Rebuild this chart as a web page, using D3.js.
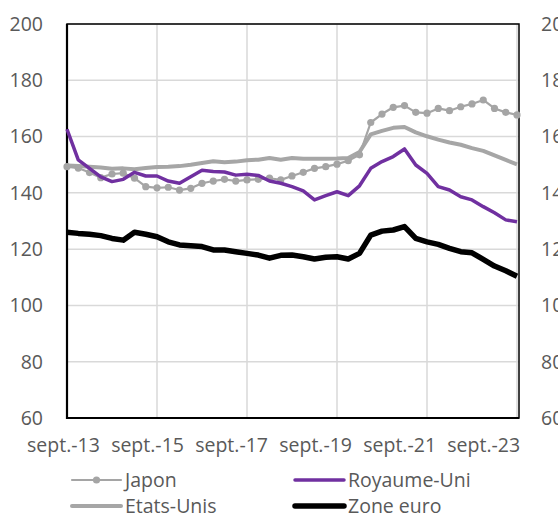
<!DOCTYPE html>
<html lang="fr">
<head>
    <meta charset="UTF-8">
    <title>Dette publique</title>
    <script src="https://d3js.org/d3.v7.min.js"></script>
    <style>
        body {
            margin: 0;
            padding: 0;
            background-color: #fff;
        }
        svg {
            display: block;
            font-family: "Open Sans", "Liberation Sans", Arial, sans-serif;
        }
    </style>
</head>
<body>
    <svg id="chart" width="558" height="514"></svg>

    <script>
        // quarterly values, sept.-13 to sept.-23 (41 quarters)
        const japon = [
            149.3, 148.8, 147.2, 145.4, 146.7, 147.0, 145.2, 142.2, 141.8, 142.0,
            141.0, 141.6, 143.4, 144.2, 144.8, 144.2, 144.6, 144.8, 145.2, 144.6,
            146.0, 147.3, 148.7, 149.3, 150.2, 151.4, 153.5, 165.0, 168.0, 170.4,
            171.0, 168.6, 168.3, 170.0, 169.2, 170.6, 171.6, 173.0, 170.0, 168.6,
            167.7
        ];
        const etatsUnis = [
            149.7, 149.5, 149.3, 149.0, 148.6, 148.7, 148.4, 148.8, 149.2, 149.3,
            149.5, 150.0, 150.6, 151.2, 150.9, 151.1, 151.6, 151.8, 152.4, 151.8,
            152.4, 152.1, 152.1, 152.1, 152.2, 152.4, 154.5, 160.8, 162.0, 163.1,
            163.4, 161.5, 160.1, 158.9, 157.9, 157.1, 155.9, 154.9, 153.3, 151.7,
            150.1
        ];
        const royaumeUni = [
            162.6, 151.7, 148.7, 145.7, 144.0, 144.8, 147.3, 146.0, 146.0, 144.2,
            143.4, 145.7, 148.0, 147.6, 147.4, 146.3, 146.6, 146.2, 144.2, 143.4,
            142.2, 140.7, 137.5, 139.0, 140.4, 139.0, 142.5, 148.7, 151.1, 152.9,
            155.6, 149.9, 146.9, 142.2, 141.0, 138.6, 137.5, 135.1, 132.9, 130.4,
            129.7
        ];
        const zoneEuro = [
            126.0, 125.6, 125.3, 124.8, 123.8, 123.2, 126.0, 125.3, 124.4, 122.6,
            121.5, 121.2, 120.9, 119.7, 119.7, 119.1, 118.5, 117.9, 116.8, 117.8,
            117.9, 117.3, 116.5, 117.1, 117.3, 116.5, 118.5, 125.0, 126.4, 126.8,
            128.0, 123.8, 122.6, 121.7, 120.3, 119.1, 118.7, 116.4, 114.0, 112.3,
            110.4
        ];
        const xLabels = ["sept.-13", "sept.-15", "sept.-17", "sept.-19", "sept.-21", "sept.-23"];
        const yTicks = [60, 80, 100, 120, 140, 160, 180, 200];

        const series = [
            { name: "Japon", values: japon, color: "#a5a5a5", width: 2.2, markers: true },
            { name: "Etats-Unis", values: etatsUnis, color: "#a6a6a6", width: 4, markers: false },
            { name: "Royaume-Uni", values: royaumeUni, color: "#7030a0", width: 3.5, markers: false },
            { name: "Zone euro", values: zoneEuro, color: "#000000", width: 5.5, markers: false }
        ];

        const svg = d3.select("#chart");
        const plotLeft = 67, plotRight = 519, plotTop = 24, plotBottom = 418;
        const textColor = "#595959";
        const fontSize = "19.5px";

        const x = d3.scaleLinear().domain([0, 40]).range([plotLeft, 517]);
        const y = d3.scaleLinear().domain([60, 200]).range([plotBottom, plotTop]);
        // Excel spreads the date labels a bit narrower than the gridlines
        const xLab = d3.scalePoint().domain(xLabels).range([63.5, 483.7]);

        // gridlines
        svg.append("g")
            .selectAll("line")
            .data(yTicks)
            .enter()
            .append("line")
            .attr("x1", plotLeft)
            .attr("x2", plotRight)
            .attr("y1", (d) => y(d))
            .attr("y2", (d) => y(d))
            .attr("stroke", "#d9d9d9")
            .attr("stroke-width", 1.5);

        svg.append("g")
            .selectAll("line")
            .data(d3.range(8, 41, 8))
            .enter()
            .append("line")
            .attr("x1", (d) => x(d))
            .attr("x2", (d) => x(d))
            .attr("y1", plotTop)
            .attr("y2", plotBottom)
            .attr("stroke", "#d9d9d9")
            .attr("stroke-width", 1.5);

        // plot border
        svg.append("rect")
            .attr("x", plotLeft)
            .attr("y", plotTop)
            .attr("width", plotRight - plotLeft)
            .attr("height", plotBottom - plotTop)
            .attr("fill", "none")
            .attr("stroke", "#000")
            .attr("stroke-width", 1.5);
        svg.append("line")
            .attr("x1", plotLeft).attr("x2", plotLeft)
            .attr("y1", plotTop).attr("y2", plotBottom + 1)
            .attr("stroke", "#000").attr("stroke-width", 2.2);
        svg.append("line")
            .attr("x1", plotLeft).attr("x2", plotRight)
            .attr("y1", plotBottom).attr("y2", plotBottom)
            .attr("stroke", "#000").attr("stroke-width", 2.2);

        // y labels, left and right (the right ones run off the edge, as in the source)
        svg.append("g")
            .selectAll("text")
            .data(yTicks)
            .enter()
            .append("text")
            .attr("x", 43)
            .attr("y", (d) => y(d))
            .attr("dy", "0.35em")
            .attr("text-anchor", "end")
            .attr("fill", textColor)
            .attr("font-size", fontSize)
            .text((d) => d);

        svg.append("g")
            .selectAll("text")
            .data(yTicks)
            .enter()
            .append("text")
            .attr("x", 541)
            .attr("y", (d) => y(d))
            .attr("dy", "0.35em")
            .attr("text-anchor", "start")
            .attr("fill", textColor)
            .attr("font-size", fontSize)
            .text((d) => d);

        // x labels
        svg.append("g")
            .selectAll("text")
            .data(xLabels)
            .enter()
            .append("text")
            .attr("x", (d) => xLab(d))
            .attr("y", 452)
            .attr("text-anchor", "middle")
            .attr("fill", textColor)
            .attr("font-size", fontSize)
            .text((d) => d);

        // lines
        const line = d3.line()
            .x((d, i) => x(i))
            .y((d) => y(d));

        const drawOrder = [series[1], series[0], series[2], series[3]];
        drawOrder.forEach((s) => {
            svg.append("path")
                .datum(s.values)
                .attr("d", line)
                .attr("fill", "none")
                .attr("stroke", s.color)
                .attr("stroke-width", s.width)
                .attr("stroke-linejoin", "round");
            if (s.markers) {
                svg.append("g")
                    .selectAll("circle")
                    .data(s.values)
                    .enter()
                    .append("circle")
                    .attr("cx", (d, i) => x(i))
                    .attr("cy", (d) => y(d))
                    .attr("r", 3.6)
                    .attr("fill", s.color);
            }
        });

        // legend
        const legendPos = [
            { s: series[0], lx: 72, ly: 480 },
            { s: series[2], lx: 295, ly: 480 },
            { s: series[1], lx: 72, ly: 506 },
            { s: series[3], lx: 295, ly: 506 }
        ];
        const legend = svg.append("g");
        legendPos.forEach((p) => {
            legend.append("line")
                .attr("x1", p.lx)
                .attr("x2", p.lx + 49)
                .attr("y1", p.ly)
                .attr("y2", p.ly)
                .attr("stroke", p.s.color)
                .attr("stroke-width", p.s.width)
                .attr("stroke-linecap", "round");
            if (p.s.markers) {
                legend.append("circle")
                    .attr("cx", p.lx + 24.5)
                    .attr("cy", p.ly)
                    .attr("r", 3.6)
                    .attr("fill", p.s.color);
            }
            legend.append("text")
                .attr("x", p.lx + 53)
                .attr("y", p.ly)
                .attr("dy", "0.35em")
                .attr("fill", textColor)
                .attr("font-size", fontSize)
                .text(p.s.name);
        });
    </script>
</body>
</html>
